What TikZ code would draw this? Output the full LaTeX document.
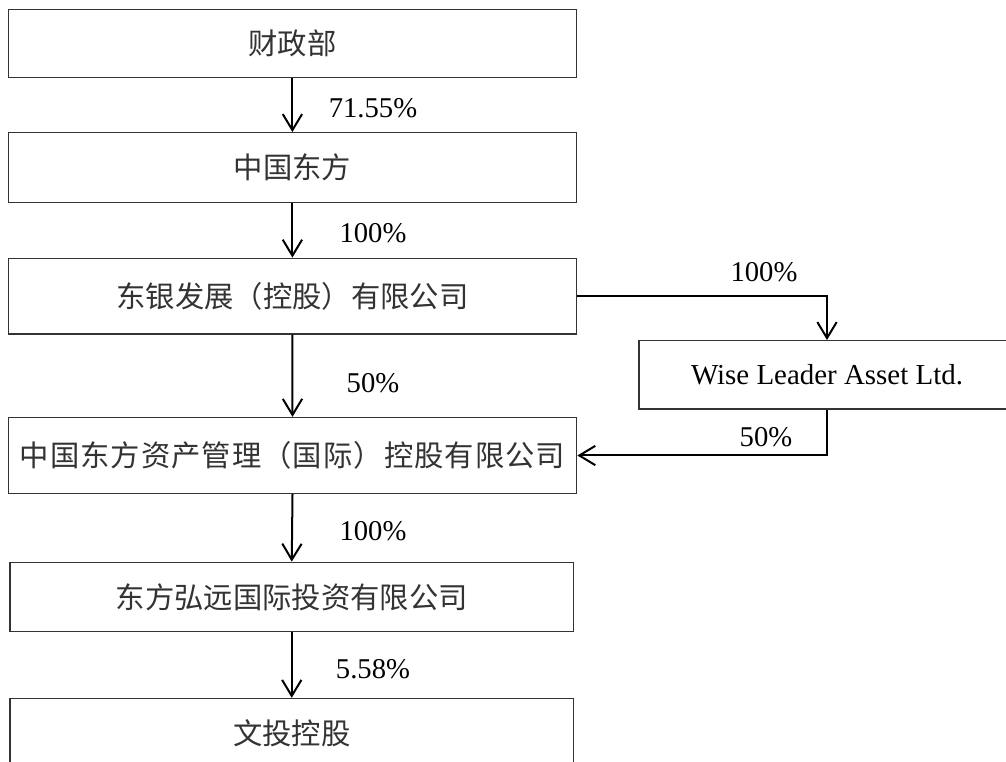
\documentclass[tikz,border=0pt]{standalone}
\usepackage{fontspec}
\setmainfont{Liberation Serif}
\newfontfamily\cjk{Noto Sans CJK SC}
\newfontfamily\cjkwide{Noto Sans CJK SC}[LetterSpace=3.5]
\usetikzlibrary{arrows.meta}
\tikzset{
  boxnode/.style={draw=black!80, line width=1pt, inner sep=0pt, font=\cjk\fontsize{22pt}{26pt}\selectfont, text=black!80},
  arr/.style={line width=1.5pt, -{Straight Barb[length=12pt,width=14.5pt,line width=1.5pt]}},
  pct/.style={anchor=base, inner sep=0pt, font=\fontsize{21.5pt}{26pt}\selectfont}
}
\begin{document}
\begin{tikzpicture}[x=0.75pt,y=-0.75pt]
\useasboundingbox (0,0) rectangle (1006,762);
\clip (0,0) rectangle (1006,762);
\fill[white] (0,0) rectangle (1006,762);
\node[boxnode, minimum width=568.2*0.75pt, minimum height=68.4*0.75pt] (b1) at (292.4,43.5) {财政部};
\node[boxnode, minimum width=568.2*0.75pt, minimum height=70*0.75pt] (b2) at (292.4,167.7) {中国东方};
\node[boxnode, minimum width=568.2*0.75pt, minimum height=75.7*0.75pt] (b3) at (292.4,296.15) {东银发展（控股）有限公司};
\node[boxnode, minimum width=568.4*0.75pt, minimum height=76*0.75pt, font=\cjkwide\fontsize{22pt}{26pt}\selectfont] (b4) at (292.5,455.5) {中国东方资产管理（国际）控股有限公司};
\node[boxnode, minimum width=563.5*0.75pt, minimum height=69.4*0.75pt] (b5) at (291.75,597) {东方弘远国际投资有限公司};
\node[boxnode, minimum width=563.5*0.75pt, minimum height=70*0.75pt] (b6) at (291.75,733.5) {文投控股};
\node[boxnode, minimum width=376*0.75pt, minimum height=68.3*0.75pt, font=\fontsize{21.7pt}{26pt}\selectfont, text=black] (w) at (827,374.85) {Wise Leader Asset Ltd.};
\draw[arr] (b1.south) -- (b2.north);
\draw[arr] (b2.south) -- (b3.north);
\draw[arr] (b3.south) -- (b4.north);
\draw[arr] (b4.south) -- (b5.north);
\draw[arr] (b5.south) -- (b6.north);
\draw[arr] (b3.east) -| (w.north);
\draw[arr] (w.south) |- (b4.east);
\node[pct] (p1) at (373,118) {71.55\%};
\node[pct] (p2) at (373,243) {100\%};
\node[pct] (p3) at (373,392.3) {50\%};
\node[pct] (p4) at (373,540) {100\%};
\node[pct] (p5) at (373,678) {5.58\%};
\node[pct] (p6) at (764,281.7) {100\%};
\node[pct] (p7) at (766,446.7) {50\%};
\end{tikzpicture}
\end{document}
